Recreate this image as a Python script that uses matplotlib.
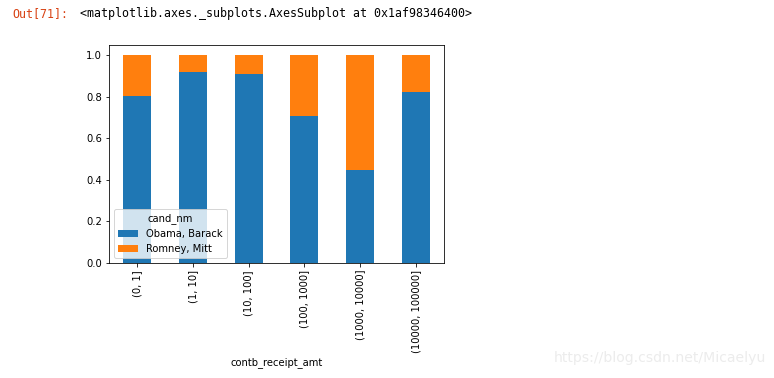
import matplotlib
matplotlib.use("Agg")
import matplotlib.pyplot as plt
import numpy as np

categories = ["(0, 1]", "(1, 10]", "(10, 100]", "(100, 1000]", "(1000, 10000]", "(10000, 100000]"]
obama = [0.805182, 0.918767, 0.910769, 0.710176, 0.447326, 0.823120]
romney = [0.194818, 0.081233, 0.089231, 0.289824, 0.552674, 0.176880]
series_names = ["Obama, Barack", "Romney, Mitt"]

W, H, DPI = 774, 378, 72
fig = plt.figure(figsize=(W / DPI, H / DPI), dpi=DPI)
ax = fig.add_axes([109 / W, 1 - 263 / H, (444 - 109) / W, (263 - 45) / H])

x = np.arange(len(categories))
ax.bar(x, obama, width=0.5, color="#1f77b4", label=series_names[0])
ax.bar(x, romney, width=0.5, bottom=obama, color="#ff7f0e", label=series_names[1])
ax.set_xlim(-0.5, len(categories) - 0.5)
ax.set_ylim(0, 1.05)
ax.set_xticks(x)
ax.set_xticklabels(categories, rotation=90)
ax.set_yticks([0.0, 0.2, 0.4, 0.6, 0.8, 1.0])
ax.set_xlabel("contb_receipt_amt")
ax.legend(title="cand_nm", loc="lower left")

fig.text(12 / W, 1 - 14 / H, "Out[71]:", color="#d84315", family="DejaVu Sans Mono",
         fontsize=11.6, va="center", ha="left")
fig.text(80 / W, 1 - 14 / H, "<matplotlib.axes._subplots.AxesSubplot at 0x1af98346400>",
         color="#000000", family="DejaVu Sans Mono", fontsize=11.6, va="center", ha="left")
fig.text(766 / W, 1 - 358 / H, "https://blog.csdn.net/Micaelyu", color="#ececec",
         fontsize=14, va="center", ha="right")

fig.savefig("out.png", dpi=DPI)
